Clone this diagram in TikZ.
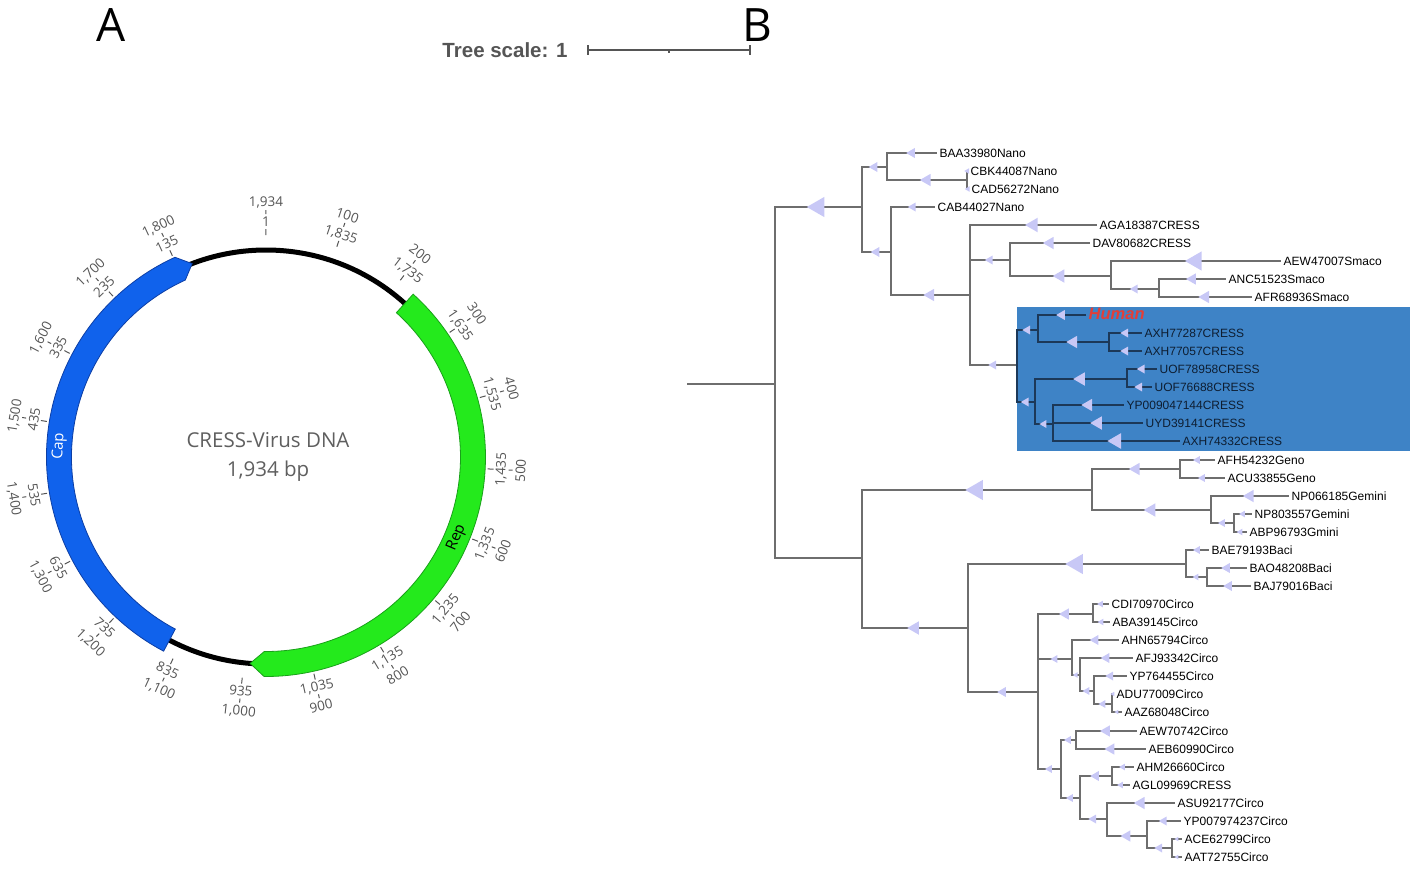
\documentclass[tikz,border=0pt]{standalone}
\usepackage{fontspec}
\setmainfont{Open Sans}
\newfontfamily\treefont{Liberation Sans}
\usetikzlibrary{shapes.geometric}
\definecolor{capblue}{RGB}{16,98,236}
\definecolor{capedge}{RGB}{12,62,165}
\definecolor{repgreen}{RGB}{36,234,28}
\definecolor{repedge}{RGB}{25,160,25}
\definecolor{labgray}{RGB}{85,85,85}
\definecolor{midgray}{RGB}{95,95,95}
\definecolor{treegray}{RGB}{110,110,110}
\definecolor{trifill}{RGB}{200,200,246}
\definecolor{boxblue}{RGB}{62,131,198}
\definecolor{boxline}{RGB}{28,56,88}
\definecolor{boxtext}{RGB}{14,30,50}
\definecolor{humred}{RGB}{226,62,56}
\newcommand{\br}[4][branch]% style, parent, child, triangle size
{\draw[#1] (#2) |- node[tri=#4]{} (#3);
}
\newcommand{\gene}[4]% style, start, arrow base, tip (degrees from the top)
{\filldraw[#1] ({#2-90}:219.5) arc[start angle={#2-90}, end angle={#3-90}, radius=219.5] -- ({#4-90}:207) -- ({#3-90}:194.5) arc[start angle={#3-90}, end angle={#2-90}, radius=194.5] -- cycle;
}

\begin{document}
\begin{tikzpicture}[x=1pt,y=-1pt,
	branch/.style={draw=treegray, line width=1.2pt},
	inbranch/.style={draw=boxline, line width=1.2pt},
	tri/.style={pos=.75, regular polygon, regular polygon sides=3, shape border rotate=90, fill=trifill, inner sep=0pt, minimum size={1.3*#1}},
	leaf/.style={anchor=west, inner xsep=2.5pt, inner ysep=0pt, text height=8.6pt, text depth=0pt, font=\treefont\fontsize{12}{12}\selectfont},
	inleaf/.style={leaf, text=boxtext},
	tickmark/.style={draw=labgray, line width=1pt},
	tlab/.style={text=labgray, inner sep=0pt, text height=9.6pt, text depth=0pt, font=\fontsize{13.5}{13.5}\selectfont}]
	\useasboundingbox (0,0) rectangle (1417,868);
	% panel letters and scale
	\node[font=\fontsize{46}{46}\selectfont] (pa) at (111,25) {A};
	\node[font=\fontsize{46}{46}\selectfont] (pb) at (757,25) {B};
	\node[anchor=east, text=labgray, font=\treefont\bfseries\fontsize{20.5}{21}\selectfont] (ts) at (571,50) {Tree scale: 1};
	\draw[labgray, line width=1.3pt] (588,50) -- (750,50);
	\draw[labgray, line width=1.3pt] (588,45) -- (588,55);
	\draw[labgray, line width=1.3pt] (750,45) -- (750,55);
	\draw[labgray, line width=1.3pt] (669,50) -- (669,53);

	% genome map
	\begin{scope}[shift={(266,457)}]
	\draw[black, line width=5pt] (0,0) circle (207);
	\gene{fill=capblue, draw=capedge, line width=.8pt}{207.8}{335.5}{339.1}
	\gene{fill=repgreen, draw=repedge, line width=.8pt}{42.1}{180.5}{184.4}
	\foreach \p/\o/\i in {1934/{1,934}/1, 100/100/{1,835}, 200/200/{1,735}, 300/300/{1,635}, 400/400/{1,535}, 500/500/{1,435}, 600/600/{1,335}, 700/700/{1,235}, 800/800/{1,135}, 900/900/{1,035}, 1000/{1,000}/935, 1100/{1,100}/835, 1200/{1,200}/735, 1300/{1,300}/635, 1400/{1,400}/535, 1500/{1,500}/435, 1600/{1,600}/335, 1700/{1,700}/235, 1800/{1,800}/135}{
		\pgfmathsetmacro\a{360/1934*\p}
		\pgfmathsetmacro\rot{-\a+180*((\a>90)*(\a<270))}
		\draw[tickmark] ({\a-90}:222) -- ({\a-90}:228);
		\draw[tickmark] ({\a-90}:243) -- ({\a-90}:247);
		\node[tlab, rotate=\rot] at ({\a-90}:235) {\i};
		\node[tlab, rotate=\rot] at ({\a-90}:255) {\o};
	}
	\node[text=white, rotate=87, font=\fontsize{15}{15}\selectfont] (cap) at (183:207) {Cap};
	\node[text=black, rotate=67.1, font=\fontsize{15}{15}\selectfont] (rep) at (22.9:207) {Rep};
	\end{scope}
	\node[text=midgray, font=\fontsize{20.5}{22}\selectfont] (title) at (268,440) {CRESS-Virus DNA};
	\node[text=midgray, font=\fontsize{20.5}{22}\selectfont] (size) at (268,471) {1,934 bp};

	% tree
	\fill[boxblue] (1017,307) rectangle (1410,451);
	\coordinate (stem) at (687,384);
	\coordinate (root) at (775,384);
	\coordinate (n1) at (862,207);
	\coordinate (n11) at (887,167);
	\coordinate (n111) at (967,180);
	\coordinate (n12) at (891,252);
	\coordinate (n121) at (970,295);
	\coordinate (n1211) at (1010,260);
	\coordinate (n12111) at (1111,276);
	\coordinate (n121111) at (1159,289);
	\coordinate (nbox) at (1017,365);
	\coordinate (nA) at (1038,330);
	\coordinate (nA2) at (1109,342);
	\coordinate (nB) at (1035,402);
	\coordinate (nB1) at (1127,379);
	\coordinate (nB2) at (1053,424);
	\coordinate (n2) at (862,558);
	\coordinate (n21) at (1092,490);
	\coordinate (n211) at (1180,469);
	\coordinate (n212) at (1211,510);
	\coordinate (n2121) at (1234,523);
	\coordinate (n22) at (968,628);
	\coordinate (n221) at (1186,564);
	\coordinate (n2211) at (1207,577);
	\coordinate (n222) at (1038,692);
	\coordinate (c1) at (1093,614);
	\coordinate (c2) at (1072,659);
	\coordinate (c21) at (1080,675);
	\coordinate (c211) at (1094,691);
	\coordinate (c2111) at (1112,704);
	\coordinate (c3) at (1061,769);
	\coordinate (c31) at (1076,740);
	\coordinate (c32) at (1080,798);
	\coordinate (c321) at (1112,776);
	\coordinate (c322) at (1107,819);
	\coordinate (c3221) at (1147,836);
	\coordinate (c32211) at (1172,848);

	\node[leaf] (l1) at (937,153) {BAA33980Nano};%1
	\node[leaf] (l2) at (968,171) {CBK44087Nano};%2
	\node[leaf] (l3) at (969,189) {CAD56272Nano};%3
	\node[leaf] (l4) at (935,207) {CAB44027Nano};%4
	\node[leaf] (l5) at (1097,225) {AGA18387CRESS};%5
	\node[leaf] (l6) at (1090,243) {DAV80682CRESS};%6
	\node[leaf] (l7) at (1281,261) {AEW47007Smaco};%7
	\node[leaf] (l8) at (1226,279) {ANC51523Smaco};%8
	\node[leaf] (l9) at (1252,297) {AFR68936Smaco};%9
	\node[leaf, text=humred, font=\treefont\bfseries\itshape\fontsize{16.5}{16.5}\selectfont] (l10) at (1086,315) {Human};%10
	\node[inleaf] (l11) at (1142,333) {AXH77287CRESS};%11
	\node[inleaf] (l12) at (1142,351) {AXH77057CRESS};%12
	\node[inleaf] (l13) at (1157,369) {UOF78958CRESS};%13
	\node[inleaf] (l14) at (1152,387) {UOF76688CRESS};%14
	\node[inleaf] (l15) at (1124,405) {YP009047144CRESS};%15
	\node[inleaf] (l16) at (1143,423) {UYD39141CRESS};%16
	\node[inleaf] (l17) at (1180,441) {AXH74332CRESS};%17
	\node[leaf] (l18) at (1215,460) {AFH54232Geno};%18
	\node[leaf] (l19) at (1225,478) {ACU33855Geno};%19
	\node[leaf] (l20) at (1289,496) {NP066185Gemini};%20
	\node[leaf] (l21) at (1252,514) {NP803557Gemini};%21
	\node[leaf] (l22) at (1247,532) {ABP96793Gmini};%22
	\node[leaf] (l23) at (1209,550) {BAE79193Baci};%23
	\node[leaf] (l24) at (1247,568) {BAO48208Baci};%24
	\node[leaf] (l25) at (1251,586) {BAJ79016Baci};%25
	\node[leaf] (l26) at (1109,604) {CDI70970Circo};%26
	\node[leaf] (l27) at (1110,622) {ABA39145Circo};%27
	\node[leaf] (l28) at (1119,640) {AHN65794Circo};%28
	\node[leaf] (l29) at (1133,658) {AFJ93342Circo};%29
	\node[leaf] (l30) at (1127,676) {YP764455Circo};%30
	\node[leaf] (l31) at (1114,694) {ADU77009Circo};%31
	\node[leaf] (l32) at (1122,712) {AAZ68048Circo};%32
	\node[leaf] (l33) at (1137,731) {AEW70742Circo};%33
	\node[leaf] (l34) at (1146,749) {AEB60990Circo};%34
	\node[leaf] (l35) at (1134,767) {AHM26660Circo};%35
	\node[leaf] (l36) at (1130,785) {AGL09969CRESS};%36
	\node[leaf] (l37) at (1175,803) {ASU92177Circo};%37
	\node[leaf] (l38) at (1181,821) {YP007974237Circo};%38
	\node[leaf] (l39) at (1182,839) {ACE62799Circo};%39
	\node[leaf] (l40) at (1182,857) {AAT72755Circo};%40

	\draw[branch] (stem) -- (root);
	\br{root}{n1}{18}
	\draw[branch] (root) |- (n2);
	\br{n1}{n11}{9}
	\br{n11}{l1}{9}
	\br{n11}{n111}{11}
	\br{n111}{l2}{5}
	\br{n111}{l3}{5}
	\br{n1}{n12}{9}
	\br{n12}{l4}{8}
	\br{n12}{n121}{11}
	\br{n121}{l5}{13}
	\br{n121}{n1211}{8}
	\br{n121}{nbox}{8}
	\br{n1211}{l6}{11}
	\br{n1211}{n12111}{12}
	\br{n12111}{l7}{17}
	\br{n12111}{n121111}{8}
	\br{n121111}{l8}{10}
	\br{n121111}{l9}{11}
	% highlighted clade
	\br[inbranch]{nbox}{nA}{8}
	\br[inbranch]{nA}{l10}{9}
	\br[inbranch]{nA}{nA2}{11}
	\br[inbranch]{nA2}{l11}{8}
	\br[inbranch]{nA2}{l12}{8}
	\br[inbranch]{nbox}{nB}{8}
	\br[inbranch]{nB}{nB1}{12}
	\br[inbranch]{nB1}{l13}{8}
	\br[inbranch]{nB1}{l14}{8}
	\br[inbranch]{nB}{nB2}{7}
	\br[inbranch]{nB2}{l15}{11}
	\br[inbranch]{nB2}{l16}{12}
	\br[inbranch]{nB2}{l17}{14}
	% lower half
	\br{n2}{n21}{18}
	\br{n2}{n22}{12}
	\br{n21}{n211}{11}
	\br{n21}{n212}{12}
	\br{n211}{l18}{7}
	\br{n211}{l19}{7}
	\br{n212}{l20}{11}
	\br{n212}{n2121}{7}
	\br{n2121}{l21}{6}
	\br{n2121}{l22}{6}
	\br{n22}{n221}{18}
	\br{n22}{n222}{9}
	\br{n221}{l23}{7}
	\br{n221}{n2211}{6}
	\br{n2211}{l24}{9}
	\br{n2211}{l25}{9}
	\br{n222}{c1}{10}
	\br{c1}{l26}{6}
	\br{c1}{l27}{6}
	\br{n222}{c2}{7}
	\br{c2}{l28}{9}
	\br{c2}{c21}{5}
	\br{c21}{l29}{9}
	\br{c21}{c211}{7}
	\br{c211}{l30}{8}
	\br{c211}{c2111}{7}
	\br{c2111}{l31}{4}
	\br{c2111}{l32}{4}
	\br{n222}{c3}{7}
	\br{c3}{c31}{7}
	\br{c31}{l33}{10}
	\br{c31}{l34}{10}
	\br{c3}{c32}{7}
	\br{c32}{c321}{9}
	\br{c321}{l35}{6}
	\br{c321}{l36}{6}
	\br{c32}{c322}{8}
	\br{c322}{l37}{11}
	\br{c322}{c3221}{10}
	\br{c3221}{l38}{8}
	\br{c3221}{c32211}{8}
	\br{c32211}{l39}{4}
	\br{c32211}{l40}{4}
\end{tikzpicture}
\end{document}
